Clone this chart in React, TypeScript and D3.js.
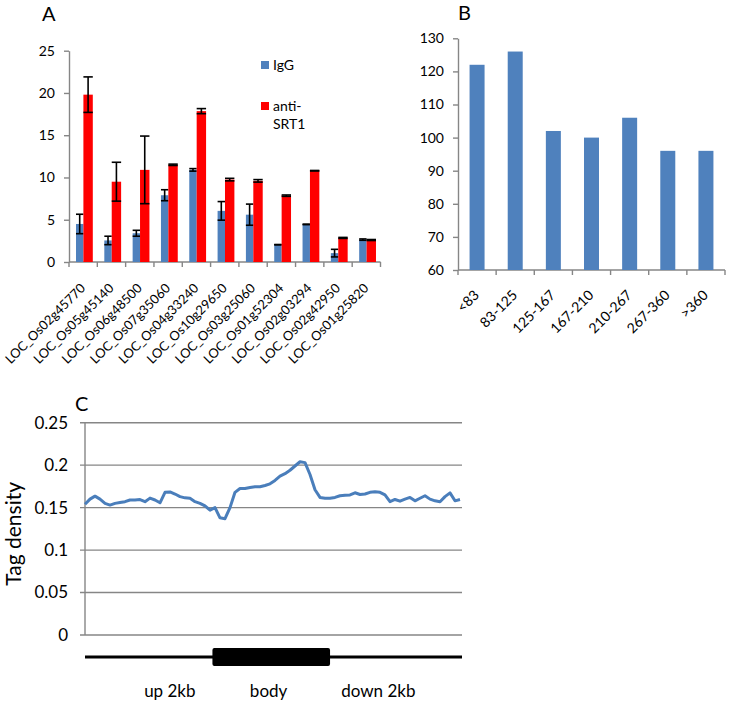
import React, { useEffect, useRef } from 'react';
import * as d3 from 'd3';

// Panel A: ChIP enrichment per locus
const genes = [
  'LOC_Os02g45770', 'LOC_Os05g45140', 'LOC_Os06g48500', 'LOC_Os07g35060',
  'LOC_Os04g33240', 'LOC_Os10g29650', 'LOC_Os03g25060', 'LOC_Os01g52304',
  'LOC_Os02g03294', 'LOC_Os02g42950', 'LOC_Os01g25820',
];
const iggValues = [4.5, 2.55, 3.4, 7.9, 10.9, 6.05, 5.6, 2.05, 4.45, 1.05, 2.65];
const iggErrors = [1.15, 0.5, 0.35, 0.65, 0.15, 1.1, 1.25, 0.02, 0.03, 0.45, 0.08];
const srt1Values = [19.8, 9.5, 10.9, 11.5, 17.85, 9.75, 9.6, 7.85, 10.8, 2.85, 2.6];
const srt1Errors = [2.1, 2.3, 4.0, 0.08, 0.3, 0.15, 0.15, 0.08, 0.03, 0.06, 0.06];
const ticksA = [0, 5, 10, 15, 20, 25];

// Panel B: counts per length bin
const sizeBins = ['<83', '83-125', '125-167', '167-210', '210-267', '267-360', '>360'];
const sizeCounts = [122, 126, 102, 100, 106, 96, 96];
const ticksB = [60, 70, 80, 90, 100, 110, 120, 130];

// Panel C: tag density profile across up 2kb / body / down 2kb
const tagDensity = [
  0.154, 0.16, 0.1635, 0.16, 0.155, 0.153, 0.155, 0.156, 0.157, 0.159,
  0.159, 0.1595, 0.157, 0.1612, 0.159, 0.1557, 0.168, 0.1685, 0.166, 0.163,
  0.1615, 0.161, 0.157, 0.155, 0.152, 0.147, 0.15, 0.138, 0.137, 0.15,
  0.168, 0.1725, 0.1725, 0.1737, 0.1745, 0.1745, 0.176, 0.178, 0.182, 0.187,
  0.19, 0.194, 0.199, 0.204, 0.203, 0.189, 0.171, 0.162, 0.161, 0.161,
  0.162, 0.164, 0.1647, 0.165, 0.1675, 0.1655, 0.166, 0.168, 0.1686, 0.168,
  0.165, 0.157, 0.1596, 0.1576, 0.16, 0.162, 0.158, 0.161, 0.164, 0.16,
  0.158, 0.157, 0.163, 0.1674, 0.158, 0.1596,
];
const ticksC = [0, 0.05, 0.1, 0.15, 0.2, 0.25];
const regionLabels = ['up 2kb', 'body', 'down 2kb'];
const regionLabelPos = [0.225, 0.487, 0.778];
const bodySpan = [0.338, 0.65];

const FONT = "Lato, 'Liberation Sans', Arial, sans-serif";
const AXIS = '#868686';
const BLUE = '#4f81bd';
const RED = '#ff0000';

type G = d3.Selection<SVGGElement, unknown, null, undefined>;

function styleAxis(ax: G, size: number) {
  ax.select('.domain').attr('stroke', AXIS).attr('stroke-width', 1.4);
  ax.selectAll('.tick line').attr('stroke', AXIS).attr('stroke-width', 1.4);
  ax.selectAll('.tick text').attr('fill', '#000').attr('font-size', size).attr('font-family', FONT);
}

function drawA(g: G) {
  const x = d3.scaleBand<string>().domain(genes).range([69, 380.5]);
  const y = d3.scaleLinear().domain([0, 25]).range([262, 50.7]);
  const bw = x.bandwidth();

  const yAx = g.append('g').attr('transform', 'translate(69,0)')
    .call(d3.axisLeft(y).tickValues(ticksA).tickSize(5).tickSizeOuter(0).tickPadding(9));
  styleAxis(yAx, 14);

  // x axis with tick marks between categories
  g.append('line').attr('x1', 69).attr('x2', 380.5).attr('y1', 262).attr('y2', 262)
    .attr('stroke', AXIS).attr('stroke-width', 1.4);
  g.append('g').selectAll('line')
    .data([...genes.map(d => x(d)!), 380.5])
    .join('line')
    .attr('x1', d => d).attr('x2', d => d).attr('y1', 262).attr('y2', 267)
    .attr('stroke', AXIS).attr('stroke-width', 1.4);

  g.append('g').selectAll('text')
    .data(genes)
    .join('text')
    .attr('transform', d => `translate(${x(d)! + bw / 2 + 3},289) rotate(-45)`)
    .attr('text-anchor', 'end')
    .attr('font-size', 13)
    .text(d => d);

  const series = [
    { vals: iggValues, errs: iggErrors, color: BLUE, off: 7, w: 7.4 },
    { vals: srt1Values, errs: srt1Errors, color: RED, off: 14.4, w: 9.4 },
  ];
  series.forEach(s => {
    const data = genes.map((name, i) => ({ name, v: s.vals[i], e: s.errs[i] }));
    g.append('g').selectAll('rect')
      .data(data)
      .join('rect')
      .attr('x', d => x(d.name)! + s.off)
      .attr('width', s.w)
      .attr('y', d => y(d.v))
      .attr('height', d => y(0) - y(d.v))
      .attr('fill', s.color);

    const eb = g.append('g').attr('stroke', '#000').attr('stroke-width', 1.6)
      .selectAll('g').data(data).join('g');
    eb.append('line')
      .attr('x1', d => x(d.name)! + s.off + s.w / 2).attr('x2', d => x(d.name)! + s.off + s.w / 2)
      .attr('y1', d => y(d.v + d.e)).attr('y2', d => y(d.v - d.e));
    eb.append('line')
      .attr('x1', d => x(d.name)! + s.off).attr('x2', d => x(d.name)! + s.off + s.w)
      .attr('y1', d => y(d.v + d.e)).attr('y2', d => y(d.v + d.e));
    eb.append('line')
      .attr('x1', d => x(d.name)! + s.off).attr('x2', d => x(d.name)! + s.off + s.w)
      .attr('y1', d => y(d.v - d.e)).attr('y2', d => y(d.v - d.e));
  });

  // legend
  const legend = [
    { lines: ['IgG'], color: BLUE, y: 61 },
    { lines: ['anti-', 'SRT1'], color: RED, y: 102 },
  ];
  legend.forEach(l => {
    g.append('rect').attr('x', 261).attr('y', l.y).attr('width', 8).attr('height', 8).attr('fill', l.color);
    l.lines.forEach((t, j) => {
      g.append('text').attr('x', 273).attr('y', l.y + 9 + j * 18).attr('font-size', 14).text(t);
    });
  });

  g.append('text').attr('x', 42).attr('y', 21).attr('font-size', 20).text('A');
}

function drawB(g: G) {
  const x = d3.scaleBand<string>().domain(sizeBins).range([458, 725]);
  const y = d3.scaleLinear().domain([60, 130]).range([270, 38.3]);
  const bw = x.bandwidth();
  const barW = 15;

  const yAx = g.append('g').attr('transform', 'translate(458,0)')
    .call(d3.axisLeft(y).tickValues(ticksB).tickSize(5).tickSizeOuter(0).tickPadding(9));
  styleAxis(yAx, 14);

  g.append('line').attr('x1', 458).attr('x2', 725).attr('y1', 270).attr('y2', 270)
    .attr('stroke', AXIS).attr('stroke-width', 1.4);
  g.append('g').selectAll('line')
    .data([...sizeBins.map(d => x(d)!), 725])
    .join('line')
    .attr('x1', d => d).attr('x2', d => d).attr('y1', 270).attr('y2', 275)
    .attr('stroke', AXIS).attr('stroke-width', 1.4);

  g.append('g').selectAll('rect')
    .data(sizeBins.map((b, i) => ({ b, v: sizeCounts[i] })))
    .join('rect')
    .attr('x', d => x(d.b)! + (bw - barW) / 2)
    .attr('width', barW)
    .attr('y', d => y(d.v))
    .attr('height', d => y(60) - y(d.v))
    .attr('fill', BLUE);

  g.append('g').selectAll('text')
    .data(sizeBins)
    .join('text')
    .attr('transform', d => `translate(${x(d)! + bw / 2 + 3},296) rotate(-45)`)
    .attr('text-anchor', 'end')
    .attr('font-size', 14)
    .text(d => d);

  g.append('text').attr('x', 458).attr('y', 20).attr('font-size', 20).text('B');
}

function drawC(g: G) {
  const x = d3.scaleLinear().domain([0, tagDensity.length - 1]).range([85, 460]);
  const y = d3.scaleLinear().domain([0, 0.25]).range([635, 422.7]);
  const track = d3.scaleLinear().domain([0, 1]).range([85, 462]);

  g.append('g').selectAll('line')
    .data(ticksC)
    .join('line')
    .attr('x1', 80).attr('x2', 462)
    .attr('y1', d => y(d)).attr('y2', d => y(d))
    .attr('stroke', AXIS).attr('stroke-width', 1.4);
  g.append('line').attr('x1', 85).attr('x2', 85).attr('y1', y(0)).attr('y2', y(0.25))
    .attr('stroke', AXIS).attr('stroke-width', 1.4);
  g.append('g').selectAll('text')
    .data(ticksC)
    .join('text')
    .attr('x', 68).attr('y', d => y(d)).attr('dy', '0.35em')
    .attr('text-anchor', 'end').attr('font-size', 17)
    .text(d => String(d));

  const line = d3.line<number>().x((_, i) => x(i)).y(d => y(d));
  g.append('path').datum(tagDensity)
    .attr('d', line)
    .attr('fill', 'none').attr('stroke', '#4a7ebb').attr('stroke-width', 3)
    .attr('stroke-linejoin', 'round');

  g.append('text')
    .attr('transform', `translate(21,${(y(0) + y(0.25)) / 2 + 5}) rotate(-90)`)
    .attr('text-anchor', 'middle').attr('font-size', 21)
    .text('Tag density');

  // gene model
  g.append('line').attr('x1', track(0)).attr('x2', track(1)).attr('y1', 657).attr('y2', 657)
    .attr('stroke', '#000').attr('stroke-width', 3);
  g.append('rect')
    .attr('x', track(bodySpan[0])).attr('width', track(bodySpan[1]) - track(bodySpan[0]))
    .attr('y', 648).attr('height', 18).attr('rx', 2).attr('fill', '#000');
  g.append('g').selectAll('text')
    .data(regionLabels)
    .join('text')
    .attr('x', (_, i) => track(regionLabelPos[i])).attr('y', 697)
    .attr('text-anchor', 'middle').attr('font-size', 17)
    .text(d => d);

  g.append('text').attr('x', 75).attr('y', 411).attr('font-size', 20).text('C');
}

const App: React.FC = () => {
  const svgRef = useRef<SVGSVGElement>(null);

  useEffect(() => {
    if (!svgRef.current) return;
    const svg = d3.select(svgRef.current);
    svg.selectAll('*').remove();
    svg.append('rect').attr('width', 729).attr('height', 705).attr('fill', '#fff');
    drawA(svg.append('g') as unknown as G);
    drawB(svg.append('g') as unknown as G);
    drawC(svg.append('g') as unknown as G);
  }, []);

  return (
    <svg
      ref={svgRef}
      width={729}
      height={705}
      style={{ position: 'absolute', left: 0, top: 0, fontFamily: FONT }}
    />
  );
};

export default App;
